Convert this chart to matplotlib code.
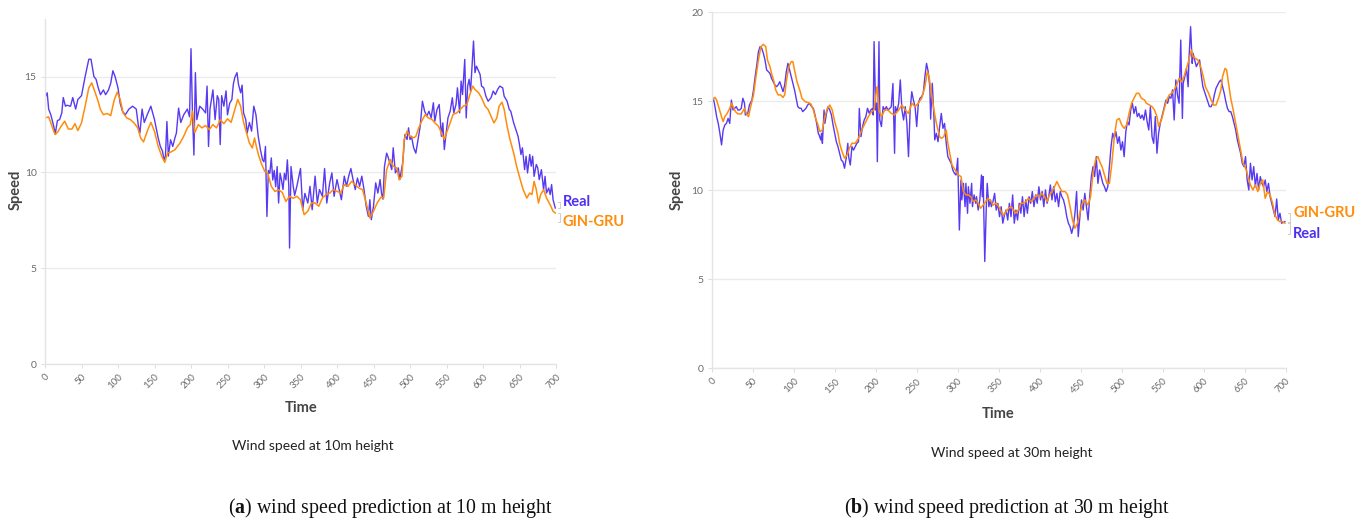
import matplotlib

matplotlib.use("Agg")
import matplotlib.pyplot as plt
import numpy as np

W, H = 1372, 527
BLUE = "#4f2ff0"
ORANGE = "#ff8c0a"
GRID = "#ebebeb"
TICK = "#6b6b6b"

# ---- wind speed at 10 m ----
l_real_t = [0, 3, 5, 8, 12, 14, 17, 20, 23, 25, 28, 30, 35, 38, 42, 45, 50, 55, 60, 63,
            67, 70, 73, 76, 80, 83, 87, 90, 93, 96, 100, 103, 106, 110, 115, 120, 125, 128, 130, 133,
            136, 140, 145, 150, 155, 158, 161, 163, 165, 167, 169, 172, 175, 178, 180, 183, 186, 190, 195, 198,
            200, 202, 204, 206, 208, 212, 216, 220, 222, 224, 226, 230, 233, 236, 238, 240, 242, 245, 248, 250,
            253, 256, 258, 260, 263, 265, 268, 270, 272, 275, 277, 280, 283, 286, 289, 292, 295, 298, 300, 302,
            304, 306, 308, 310, 312, 314, 316, 318, 320, 322, 324, 326, 328, 330, 332, 334, 335, 337, 340, 342,
            345, 350, 353, 356, 360, 363, 366, 370, 373, 376, 380, 383, 386, 390, 393, 396, 400, 403, 406, 410,
            413, 416, 419, 422, 425, 428, 431, 434, 437, 440, 443, 445, 447, 450, 453, 456, 459, 461, 463, 465,
            468, 470, 475, 477, 480, 484, 486, 490, 493, 496, 498, 500, 502, 505, 508, 511, 514, 517, 520, 523,
            526, 529, 532, 534, 537, 540, 543, 545, 547, 549, 552, 555, 558, 560, 563, 565, 568, 570, 572, 575,
            577, 579, 581, 583, 585, 587, 589, 591, 594, 596, 598, 601, 604, 607, 611, 614, 617, 620, 623, 627,
            629, 633, 636, 638, 642, 645, 648, 650, 652, 654, 657, 659, 661, 664, 666, 668, 670, 673, 675, 677,
            680, 683, 685, 687, 690, 692, 694, 696, 699]
l_real_v = [13.9, 14.15, 13.3, 13.0, 12.4, 12.0, 12.7, 12.75, 13.1, 13.9, 13.45, 13.5, 13.45, 13.9, 13.3, 13.8, 14.0, 15.0, 15.9, 15.9,
            15.0, 14.85, 14.4, 14.05, 14.3, 14.05, 14.3, 14.65, 15.3, 15.0, 14.4, 13.6, 13.2, 13.0, 13.3, 13.45, 13.3, 12.4, 12.05, 13.3,
            12.6, 13.0, 13.45, 12.75, 11.8, 11.35, 11.1, 10.65, 10.85, 12.65, 10.85, 11.7, 11.35, 11.8, 12.05, 13.35, 12.6, 13.0, 13.3, 12.9,
            16.45, 13.1, 10.9, 15.2, 12.75, 13.45, 13.3, 13.1, 14.5, 11.35, 13.3, 14.3, 12.75, 14.0, 13.8, 11.45, 14.0, 13.45, 14.25, 13.0,
            13.6, 13.8, 14.6, 14.95, 15.2, 14.6, 14.15, 14.55, 13.1, 12.75, 12.05, 12.6, 12.15, 13.45, 13.0, 11.9, 11.2, 10.65, 10.55, 11.35,
            7.7, 10.1, 9.95, 10.75, 9.6, 10.1, 9.25, 10.3, 8.4, 9.95, 9.6, 9.1, 9.95, 9.6, 10.65, 9.25, 6.05, 10.3, 9.27, 8.8,
            9.27, 10.2, 8.05, 8.9, 8.4, 9.27, 8.05, 9.8, 8.4, 9.1, 8.75, 10.2, 8.4, 9.45, 9.97, 8.75, 9.62, 9.1, 8.57, 9.8,
            9.27, 9.8, 10.2, 9.62, 9.1, 9.7, 9.27, 9.8, 9.1, 8.23, 7.7, 8.57, 7.53, 8.23, 9.45, 8.92, 9.62, 8.9, 8.6, 10.3,
            11.0, 10.8, 10.14, 11.28, 9.97, 10.23, 9.62, 10.5, 11.97, 11.71, 12.32, 11.71, 11.88, 11.28, 11.0, 11.71, 12.41, 13.71, 13.19, 12.93,
            13.19, 12.84, 13.63, 12.67, 13.28, 13.54, 11.88, 12.58, 11.19, 11.88, 12.84, 13.19, 13.89, 13.1, 13.54, 14.41, 13.1, 14.76, 14.06, 15.89,
            12.84, 14.5, 14.85, 14.24, 15.54, 16.85, 15.2, 15.54, 15.28, 15.11, 14.5, 14.41, 13.97, 13.71, 13.89, 14.24, 14.06, 14.32, 14.5, 14.41,
            13.97, 13.71, 13.28, 13.19, 12.58, 12.23, 11.88, 11.45, 10.93, 11.28, 10.14, 10.84, 9.97, 10.93, 10.32, 10.84, 9.79, 10.41, 10.23, 9.62,
            10.14, 9.1, 9.79, 8.92, 9.18, 8.84, 9.36, 8.57, 8.14]

l_pred_t = [0, 5, 8, 12, 14, 18, 22, 27, 32, 37, 41, 45, 50, 55, 60, 64, 68, 72, 76, 80,
            85, 90, 95, 99, 103, 107, 112, 117, 122, 127, 131, 135, 140, 145, 150, 155, 160, 164, 168, 172,
            178, 185, 190, 195, 199, 202, 205, 210, 215, 220, 225, 230, 235, 240, 245, 250, 255, 260, 264, 268,
            272, 276, 280, 284, 287, 290, 293, 297, 301, 305, 310, 315, 320, 325, 330, 335, 340, 345, 350, 355,
            360, 365, 370, 375, 380, 385, 390, 395, 400, 405, 410, 415, 420, 425, 430, 435, 440, 445, 450, 455,
            460, 464, 468, 473, 477, 482, 485, 489, 492, 496, 500, 505, 508, 512, 516, 521, 525, 530, 534, 539,
            543, 547, 550, 555, 559, 564, 569, 573, 578, 582, 586, 589, 594, 598, 603, 607, 612, 615, 619, 622,
            626, 629, 633, 637, 642, 646, 651, 655, 660, 664, 667, 670, 673, 676, 679, 683, 687, 692, 696, 699]
l_pred_v = [12.84, 12.89, 12.58, 12.14, 11.97, 12.14, 12.4, 12.67, 12.26, 12.26, 12.54, 12.18, 12.58, 13.45, 14.41, 14.67, 14.23, 13.8, 13.27, 13.01,
            13.07, 12.96, 13.8, 14.18, 13.8, 13.1, 12.84, 12.75, 12.58, 12.32, 11.79, 11.59, 12.14, 12.61, 12.14, 11.36, 10.84, 10.52, 11.01, 11.05,
            11.18, 11.53, 11.88, 12.32, 12.49, 13.19, 12.06, 12.49, 12.32, 12.44, 12.23, 12.49, 12.32, 12.75, 12.54, 12.79, 12.61, 13.28, 13.8, 13.45,
            12.61, 12.06, 11.53, 11.27, 11.79, 11.27, 10.84, 10.4, 10.05, 9.97, 9.27, 9.0, 9.09, 8.95, 8.48, 8.75, 8.64, 8.75, 8.57, 7.79,
            7.97, 8.4, 8.4, 8.23, 8.66, 8.84, 8.92, 9.1, 9.01, 8.92, 9.36, 9.27, 9.53, 9.36, 9.18, 9.1, 8.4, 7.62, 7.97, 8.4,
            8.7, 8.66, 10.14, 10.67, 10.32, 10.23, 9.62, 9.79, 11.71, 12.15, 11.88, 11.8, 11.88, 12.32, 12.67, 13.02, 12.84, 12.76, 12.58, 12.41,
            12.06, 11.71, 12.06, 12.58, 13.02, 13.1, 13.28, 13.45, 13.54, 14.06, 14.5, 14.32, 14.15, 13.89, 13.45, 13.28, 12.84, 12.58, 12.84, 13.45,
            13.66, 13.28, 12.41, 11.71, 11.01, 10.32, 9.62, 9.1, 8.66, 8.92, 8.84, 9.53, 9.1, 8.4, 8.84, 9.1, 8.66, 8.31, 7.97, 7.88]

# ---- wind speed at 30 m ----
r_real_t = [0, 2, 4, 6, 8, 10, 12, 14, 16, 18, 20, 22, 24, 26, 28, 30, 32, 34, 36, 38,
            40, 41, 44, 46, 49, 51, 53, 55, 57, 59, 61, 63, 65, 67, 69, 71, 73, 75, 77, 79,
            81, 83, 85, 87, 89, 91, 93, 95, 97, 99, 101, 103, 105, 107, 109, 111, 113, 115, 117, 119,
            122, 124, 126, 128, 130, 131, 133, 134, 135, 137, 138, 140, 142, 144, 146, 148, 150, 152, 154, 156,
            158, 160, 162, 164, 166, 167, 169, 171, 173, 175, 177, 179, 180, 182, 184, 186, 188, 190, 192, 194,
            196, 197, 198, 200, 201, 202, 204, 205, 207, 209, 211, 213, 215, 217, 219, 221, 223, 224, 226, 228,
            230, 232, 234, 236, 238, 240, 242, 244, 246, 248, 250, 252, 254, 256, 258, 260, 262, 264, 266, 267,
            269, 271, 272, 274, 276, 278, 280, 282, 284, 286, 288, 290, 292, 294, 296, 298, 300, 302, 304, 305,
            307, 309, 310, 312, 313, 315, 317, 318, 320, 322, 323, 325, 327, 329, 330, 331, 333, 335, 336, 338,
            340, 341, 343, 345, 347, 349, 351, 353, 355, 357, 359, 361, 363, 365, 367, 369, 371, 373, 375, 377,
            379, 381, 383, 385, 387, 389, 391, 393, 395, 397, 399, 401, 403, 405, 407, 409, 411, 413, 415, 417,
            419, 421, 423, 425, 427, 429, 431, 433, 435, 437, 439, 441, 443, 445, 447, 449, 451, 453, 455, 457,
            459, 461, 463, 465, 467, 469, 471, 473, 475, 477, 479, 481, 483, 485, 487, 489, 491, 493, 495, 497,
            499, 501, 503, 505, 507, 509, 511, 513, 515, 517, 519, 521, 523, 525, 527, 529, 531, 533, 535, 537,
            539, 541, 543, 545, 547, 548, 550, 552, 554, 556, 558, 560, 562, 564, 566, 568, 570, 572, 574, 575,
            577, 579, 581, 582, 584, 586, 587, 589, 591, 593, 595, 597, 599, 601, 603, 605, 607, 609, 611, 613,
            615, 617, 619, 621, 623, 625, 627, 629, 631, 633, 635, 637, 639, 641, 643, 645, 647, 649, 651, 653,
            655, 657, 659, 661, 663, 665, 667, 669, 671, 673, 675, 677, 679, 681, 683, 685, 687, 689, 691, 693,
            695, 699]
r_real_v = [14.79, 15.17, 14.7, 14.14, 13.76, 13.2, 12.55, 13.39, 13.67, 13.76, 14.04, 13.76, 15.07, 14.51, 14.61, 14.7, 14.51, 14.51, 14.6, 15.17,
            14.89, 14.23, 14.33, 14.79, 15.07, 15.64, 16.39, 17.04, 17.79, 18.07, 17.98, 17.7, 17.32, 16.76, 16.67, 16.57, 16.29, 16.1, 15.92, 15.82,
            15.92, 16.1, 15.82, 15.54, 15.92, 16.67, 17.13, 16.76, 16.39, 16.01, 15.64, 15.17, 14.7, 14.61, 14.61, 14.42, 14.51, 14.61, 14.79, 14.89,
            14.7, 14.6, 14.23, 13.76, 13.2, 13.11, 12.83, 13.2, 12.64, 14.51, 13.76, 14.33, 14.7, 14.51, 14.23, 13.67, 13.2, 12.73, 12.45, 12.08,
            11.7, 11.61, 11.24, 11.8, 12.64, 11.89, 11.42, 12.45, 12.26, 12.45, 12.64, 12.73, 14.6, 13.01, 13.58, 13.95, 14.14, 14.61, 14.33, 14.51,
            14.6, 14.23, 18.35, 14.51, 14.89, 11.61, 18.35, 13.95, 13.58, 14.7, 14.51, 14.7, 14.51, 14.6, 14.7, 16.0, 12.08, 14.7, 14.42, 14.89,
            16.2, 14.51, 13.95, 14.7, 13.76, 11.89, 14.51, 15.54, 15.07, 14.7, 13.58, 14.89, 15.17, 15.26, 15.45, 16.39, 17.13, 16.67, 15.82, 14.0,
            16.01, 14.14, 12.83, 13.2, 12.73, 13.58, 14.32, 13.48, 13.76, 12.64, 11.89, 11.7, 11.52, 11.14, 10.95, 10.86, 11.8, 7.77, 10.58, 9.46,
            10.39, 9.08, 10.39, 8.71, 10.2, 9.27, 10.39, 9.08, 9.74, 9.27, 9.64, 8.89, 9.46, 10.86, 9.64, 10.77, 6.0, 9.27, 10.39, 9.08,
            9.46, 9.08, 9.36, 9.83, 8.89, 9.27, 8.52, 9.08, 8.15, 8.61, 8.89, 8.33, 9.27, 8.52, 9.74, 8.15, 8.89, 8.33, 9.27, 8.71,
            9.64, 8.52, 9.46, 8.71, 9.64, 9.27, 9.93, 9.08, 9.74, 9.27, 10.2, 9.46, 9.93, 9.08, 10.02, 9.27, 9.64, 10.3, 9.46, 10.2,
            9.36, 9.83, 9.08, 9.93, 9.64, 9.46, 9.08, 8.52, 8.15, 7.96, 7.58, 7.96, 8.71, 9.93, 7.4, 8.52, 9.46, 8.89, 9.83, 9.08,
            8.33, 9.64, 10.77, 11.33, 10.77, 11.89, 10.39, 11.14, 10.77, 10.39, 10.2, 9.93, 10.2, 11.33, 12.45, 13.2, 12.92, 13.29, 12.64, 13.01,
            12.26, 12.73, 11.89, 13.29, 13.86, 13.67, 14.51, 14.89, 14.32, 14.7, 14.14, 14.32, 14.04, 14.23, 13.95, 14.51, 13.86, 13.39, 14.7, 13.01,
            12.64, 14.14, 12.08, 13.2, 13.76, 13.95, 14.32, 14.7, 15.07, 14.89, 15.26, 15.17, 15.64, 13.95, 16.2, 15.36, 14.89, 18.44, 14.04, 16.01,
            16.39, 16.85, 15.82, 17.32, 19.19, 17.13, 17.7, 17.32, 16.95, 17.13, 17.32, 16.48, 15.82, 15.54, 15.26, 14.98, 14.7, 14.7, 14.89, 15.36,
            15.73, 15.92, 16.1, 16.2, 15.82, 15.45, 14.98, 14.6, 14.42, 14.42, 14.14, 13.76, 13.39, 12.83, 12.45, 12.08, 11.52, 11.33, 11.89, 10.58,
            10.02, 11.52, 10.58, 11.33, 10.2, 10.95, 10.02, 10.77, 10.39, 10.2, 10.58, 9.93, 10.39, 9.64, 9.27, 8.89, 8.52, 9.51, 8.33, 8.71,
            8.15, 8.24]

r_pred_t = [0, 4, 6, 9, 12, 14, 16, 19, 22, 24, 26, 29, 32, 36, 40, 43, 45, 47, 51, 54,
            57, 60, 63, 66, 68, 71, 73, 76, 78, 81, 84, 87, 89, 91, 94, 97, 99, 101, 104, 108,
            110, 114, 118, 121, 124, 126, 129, 132, 135, 138, 141, 144, 147, 150, 154, 156, 159, 162, 165, 168,
            171, 175, 179, 183, 187, 191, 195, 198, 201, 202, 204, 207, 211, 215, 219, 223, 228, 232, 236, 240,
            244, 248, 252, 256, 260, 263, 265, 268, 271, 274, 278, 280, 283, 286, 288, 291, 293, 297, 301, 304,
            307, 310, 313, 316, 319, 322, 325, 328, 331, 334, 337, 341, 343, 347, 350, 353, 356, 359, 362, 365,
            368, 371, 374, 377, 380, 383, 386, 390, 393, 396, 400, 402, 406, 409, 411, 415, 418, 421, 424, 427,
            431, 434, 437, 440, 443, 446, 449, 452, 455, 459, 462, 465, 468, 471, 474, 476, 479, 482, 485, 488,
            491, 494, 497, 500, 503, 506, 509, 512, 515, 518, 521, 524, 528, 530, 534, 537, 540, 543, 545, 549,
            552, 555, 558, 561, 564, 567, 570, 573, 576, 579, 582, 585, 587, 590, 593, 597, 600, 602, 606, 609,
            612, 615, 618, 621, 623, 626, 628, 630, 633, 636, 639, 642, 645, 648, 652, 654, 657, 660, 663, 666,
            669, 672, 675, 678, 681, 684, 687, 690, 693, 696, 699]
r_pred_v = [15.07, 15.22, 15.07, 14.6, 14.14, 13.86, 14.14, 14.33, 14.6, 14.89, 14.7, 14.42, 14.29, 14.29, 14.6, 14.23, 14.14, 14.6, 15.36, 16.39,
            17.32, 18.07, 18.2, 18.07, 17.32, 16.95, 16.57, 16.1, 15.64, 15.36, 15.36, 15.22, 15.36, 16.1, 16.95, 17.23, 17.23, 16.76, 16.1, 15.54,
            15.17, 14.98, 14.92, 14.85, 14.51, 14.14, 13.76, 13.29, 13.39, 14.14, 14.6, 14.79, 14.51, 13.86, 13.2, 12.64, 12.17, 11.8, 11.98, 12.36,
            12.64, 12.64, 12.92, 13.39, 13.76, 14.14, 14.42, 14.51, 15.64, 15.82, 14.51, 14.14, 14.51, 14.51, 14.32, 14.23, 14.51, 14.79, 14.51, 14.32,
            14.89, 14.7, 14.89, 15.17, 15.82, 16.67, 16.39, 15.45, 14.51, 13.76, 13.01, 12.92, 13.01, 13.39, 12.64, 11.89, 11.42, 11.14, 10.86, 10.77,
            9.93, 9.74, 9.74, 9.64, 9.36, 9.46, 9.27, 8.99, 9.17, 9.36, 9.55, 9.36, 9.17, 9.27, 9.08, 8.8, 8.61, 8.8, 8.99, 9.08,
            8.89, 8.71, 8.89, 9.27, 9.27, 9.36, 9.55, 9.36, 9.55, 9.74, 9.64, 9.83, 9.64, 9.36, 9.64, 9.93, 10.2, 10.49, 10.2, 9.93,
            9.93, 9.74, 9.08, 8.33, 7.87, 8.15, 8.71, 9.27, 9.46, 9.17, 9.64, 10.95, 11.7, 11.89, 11.52, 11.33, 10.86, 10.39, 10.39, 11.52,
            13.01, 13.95, 14.04, 13.67, 13.48, 13.67, 14.32, 14.89, 15.17, 15.45, 15.45, 15.17, 15.07, 14.89, 14.79, 14.7, 14.51, 14.14, 13.58, 14.04,
            14.6, 15.07, 15.36, 15.45, 15.64, 15.92, 16.29, 16.1, 16.39, 16.85, 17.32, 17.88, 17.51, 17.41, 17.32, 16.85, 16.29, 15.82, 15.45, 15.07,
            14.79, 14.79, 15.17, 15.64, 16.39, 16.85, 16.76, 16.1, 15.17, 14.51, 13.76, 13.01, 12.26, 11.52, 11.14, 10.77, 10.3, 10.02, 10.3, 9.93,
            10.39, 10.58, 9.55, 9.93, 9.74, 9.27, 8.61, 8.33, 8.24, 8.24, 8.15]

x_ticks = list(range(0, 701, 50))


def fig_x(px):
    return px / W


def fig_y(py):
    return 1 - py / H


def draw_panel(fig, rect, real, pred, ymax, yticks, order):
    ax = fig.add_axes(rect)
    ax.plot(real[0], real[1], color=BLUE, lw=1.0, alpha=0.95, solid_joinstyle="round")
    ax.plot(pred[0], pred[1], color=ORANGE, lw=1.1, solid_joinstyle="round")
    ax.set_xlim(0, 700)
    ax.set_ylim(0, ymax)
    ax.set_xticks(x_ticks)
    ax.set_xticklabels([str(t) for t in x_ticks], rotation=45, ha="right",
                       rotation_mode="anchor", fontsize=7, color=TICK, family="Lato")
    ax.set_yticks(yticks)
    ax.set_yticklabels([str(t) for t in yticks], fontsize=7.5, color=TICK, family="Lato")
    ax.tick_params(axis="x", length=3, width=0.6, color="#d8d8d8", pad=3)
    ax.tick_params(axis="y", length=3, width=0.6, color="#d8d8d8", pad=3)
    ax.grid(axis="y", color=GRID, lw=1.0)
    ax.set_axisbelow(True)
    for side in ("top", "right"):
        ax.spines[side].set_visible(False)
    for side in ("left", "bottom"):
        ax.spines[side].set_color("#e4e4e4")
        ax.spines[side].set_linewidth(1.0)

    # end-of-line series labels with small brackets
    end_real, end_pred = real[1][-1], pred[1][-1]
    for name, color, y_lab in order:
        y_end = end_real if name == "Real" else end_pred
        ax.text(709, y_lab, name, color=color, fontsize=10.5, weight="bold",
                family="Lato", va="center", ha="left", clip_on=False)
        ax.plot([703, 705, 705, 703], [y_end, y_end, y_lab, y_lab], color="#c8c8c8",
                lw=0.6, clip_on=False)
    return ax


fig = plt.figure(figsize=(W / 100, H / 100), dpi=100)

ax_a = draw_panel(
    fig,
    [fig_x(45), fig_y(364), (556 - 45) / W, (364 - 19) / H],
    (l_real_t, l_real_v), (l_pred_t, l_pred_v), 18, [0, 5, 10, 15],
    [("Real", BLUE, 8.45), ("GIN-GRU", ORANGE, 7.4)],
)
ax_b = draw_panel(
    fig,
    [fig_x(711.7), fig_y(368.3), 574 / W, 356 / H],
    (r_real_t, r_real_v), (r_pred_t, r_pred_v), 20, [0, 5, 10, 15, 20],
    [("GIN-GRU", ORANGE, 8.75), ("Real", BLUE, 7.55)],
)

plt.rcParams["mathtext.fontset"] = "custom"
plt.rcParams["mathtext.rm"] = "Liberation Serif"
plt.rcParams["mathtext.bf"] = "Liberation Serif:bold"

for cx_time, cy_time, cx_sub, cy_sub, sx, sub, cap_x, cap in (
    (301, 408, 313, 446, 16, "Wind speed at 10m height", 390,
     r"($\mathbf{a}$) wind speed prediction at 10 m height"),
    (998, 414, 1012, 453, 677, "Wind speed at 30m height", 1007,
     r"($\mathbf{b}$) wind speed prediction at 30 m height"),
):
    fig.text(fig_x(cx_time), fig_y(cy_time), "Time", ha="center", va="center",
             fontsize=10.5, weight="bold", color="#444444", family="Lato")
    fig.text(fig_x(sx), fig_y(190), "Speed", ha="center", va="center", rotation=90,
             fontsize=10.5, weight="bold", color="#444444", family="Lato")
    fig.text(fig_x(cx_sub), fig_y(cy_sub), sub, ha="center", va="center",
             fontsize=10, color="#222222", family="Lato")
    fig.text(fig_x(cap_x), fig_y(508), cap, ha="center", va="center",
             fontsize=14.3, color="#111111", family="Liberation Serif")

fig.savefig("out.png", dpi=100)
